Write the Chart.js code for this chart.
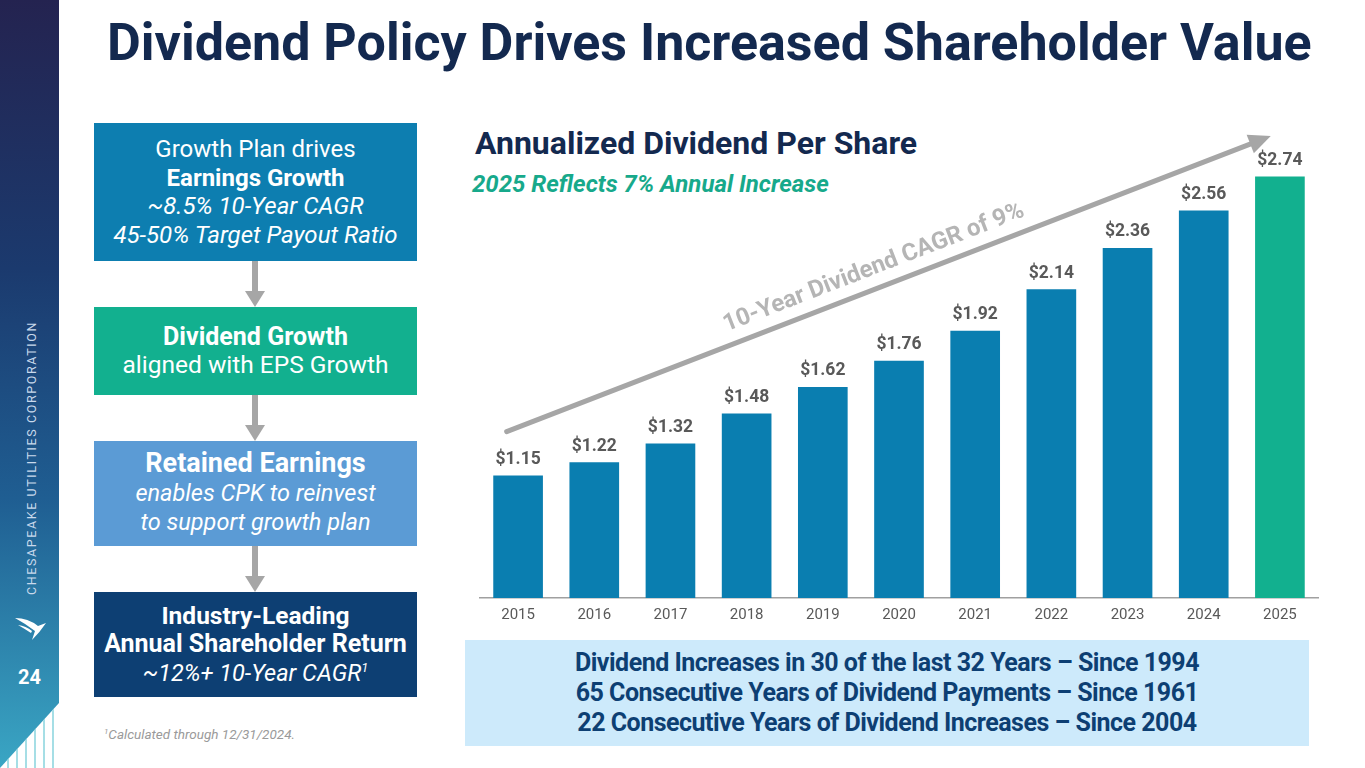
<!DOCTYPE html>
<html>
<head>
<meta charset="utf-8">
<title>Dividend Policy Drives Increased Shareholder Value</title>
<script src="https://cdn.jsdelivr.net/npm/chart.js@4.4.1/dist/chart.umd.min.js"></script>
<style>
  html, body { margin: 0; padding: 0; }
  body {
    width: 1365px; height: 768px; overflow: hidden; position: relative;
    background: #fff; font-family: Roboto, "Noto Sans", sans-serif;
  }
  .abs { position: absolute; }
  #sidebar {
    left: 0; top: 0; width: 59px; height: 768px;
    background: linear-gradient(to bottom, #242350 0%, #1b3a6e 35%, #1f5e92 65%, #3aa6c4 100%);
    clip-path: polygon(0 0, 59px 0, 59px 703px, 0 768px);
  }
  #stripes {
    left: 0; top: 700px; width: 59px; height: 68px;
    background: repeating-linear-gradient(to right, transparent 0 7px, #8fd6df 7px 9px);
    clip-path: polygon(59px 3px, 59px 68px, 0 68px);
    opacity: 0.8;
  }
  #brand {
    left: -118px; top: 450px; width: 300px; height: 16px; line-height: 16px;
    transform: rotate(-90deg); text-align: center;
    color: #c9d9ec; font-size: 12.5px; letter-spacing: 1.6px; white-space: nowrap;
  }
  #pageNo { left: 0; top: 665px; width: 59px; text-align: center; color: #fff; font-weight: 700; font-size: 20px; }
  #logo { left: 12px; top: 614px; }
  #title {
    left: 107px; top: 13px; white-space: nowrap;
    color: #13294f; font-weight: 700; font-size: 52px; line-height: 60px;
  }
  .box {
    left: 94px; width: 323px; display: flex; flex-direction: column;
    justify-content: center; align-items: center; text-align: center;
    color: #fff; font-size: 24px; line-height: 28.5px; white-space: nowrap;
  }
  .box b { font-weight: 700; }
  .box i { font-style: italic; }
  #box1 { top: 123px; height: 138px; background: #0d7eb0; }
  #box2 { top: 307px; height: 88px; background: #12b08f; }
  #box3 { top: 441px; height: 105px; background: #5b9bd5; line-height: 29.5px; }
  #box4 { top: 592px; height: 105px; background: #0d3f73; }
  .arrow { left: 245px; width: 20px; }
  .arrow .shaft { position: absolute; left: 7px; width: 6px; top: 0; background: #a6a6a6; }
  .arrow .head {
    position: absolute; left: 0; width: 0; height: 0;
    border-left: 10px solid transparent; border-right: 10px solid transparent; border-top: 16px solid #a6a6a6;
  }
  #footnote { left: 104px; top: 726px; color: #9a9a9a; font-size: 13.5px; font-style: italic; }
  #footnote sup { font-size: 8px; }
  #chartTitle { left: 475px; top: 124px; color: #13294f; font-weight: 700; font-size: 32px; line-height: 38px; white-space: nowrap; }
  #chartSub { left: 472px; top: 170px; color: #17a98b; font-weight: 700; font-style: italic; font-size: 24px; line-height: 28px; white-space: nowrap; }
  #chartWrap { left: 465px; top: 110px; width: 860px; height: 539px; }
  #facts {
    left: 465px; top: 640px; width: 844px; height: 106px; background: #cdeafb;
    display: flex; flex-direction: column; justify-content: center; align-items: center;
    color: #0d3f73; font-weight: 700; font-size: 25px; line-height: 30px; letter-spacing: -0.5px; white-space: nowrap;
  }
</style>
</head>
<body>
  <div id="sidebar" class="abs"></div>
  <div id="stripes" class="abs"></div>
  <div id="brand" class="abs">CHESAPEAKE UTILITIES CORPORATION</div>
  <svg id="logo" class="abs" width="40" height="34" viewBox="0 0 40 34">
    <path d="M3 4 Q16 4 26 12 L34 9 Q28 18 20 26 L23 17 Q14 10 3 4 Z" fill="#fff"/>
    <path d="M6 11 Q14 12 20 17 L19 19 Q13 15 6 11 Z" fill="#fff"/>
  </svg>
  <div id="pageNo" class="abs">24</div>

  <div id="title" class="abs">Dividend Policy Drives Increased Shareholder Value</div>

  <div id="box1" class="abs box">
    <div>Growth Plan drives</div>
    <div><b>Earnings Growth</b></div>
    <div><i>~8.5% 10-Year CAGR</i></div>
    <div><i>45-50% Target Payout Ratio</i></div>
  </div>
  <div class="abs arrow" style="top:261px;height:46px"><div class="shaft" style="height:30px"></div><div class="head" style="top:30px"></div></div>
  <div id="box2" class="abs box">
    <div style="font-size:25px"><b>Dividend Growth</b></div>
    <div style="font-size:24.5px">aligned with EPS Growth</div>
  </div>
  <div class="abs arrow" style="top:395px;height:46px"><div class="shaft" style="height:30px"></div><div class="head" style="top:30px"></div></div>
  <div id="box3" class="abs box">
    <div style="font-size:27px"><b>Retained Earnings</b></div>
    <div style="font-size:23.5px"><i>enables CPK to reinvest</i></div>
    <div style="font-size:23.5px"><i>to support growth plan</i></div>
  </div>
  <div class="abs arrow" style="top:546px;height:46px"><div class="shaft" style="height:30px"></div><div class="head" style="top:30px"></div></div>
  <div id="box4" class="abs box">
    <div style="font-size:24.5px"><b>Industry-Leading</b></div>
    <div style="font-size:25px"><b>Annual Shareholder Return</b></div>
    <div style="font-size:23.5px"><i>~12%+ 10-Year CAGR<sup style="font-size:13px;line-height:0">1</sup></i></div>
  </div>
  <div id="footnote" class="abs"><sup>1</sup>Calculated through 12/31/2024.</div>

  <div id="chartTitle" class="abs">Annualized Dividend Per Share</div>
  <div id="chartSub" class="abs">2025 Reflects 7% Annual Increase</div>
  <div id="chartWrap" class="abs"><canvas id="dividendChart"></canvas></div>

  <div id="facts" class="abs">
    <div>Dividend Increases in 30 of the last 32 Years – Since 1994</div>
    <div>65 Consecutive Years of Dividend Payments – Since 1961</div>
    <div>22 Consecutive Years of Dividend Increases – Since 2004</div>
  </div>

<script>
  // Chart data
  const years = ['2015', '2016', '2017', '2018', '2019', '2020', '2021', '2022', '2023', '2024', '2025'];
  const dividends = [1.15, 1.22, 1.32, 1.48, 1.62, 1.76, 1.92, 2.14, 2.36, 2.56, 2.74];
  const trendLabel = '10-Year Dividend CAGR of 9%';

  const BLUE = '#0a7eb0';
  const TEAL = '#12b08f';

  // Value labels above each bar
  const valueLabels = {
    id: 'valueLabels',
    afterDatasetsDraw(chart){
      const ctx = chart.ctx;
      const meta = chart.getDatasetMeta(0);
      ctx.save();
      ctx.font = '700 17.5px Roboto';
      ctx.fillStyle = '#595959';
      ctx.textAlign = 'center';
      ctx.textBaseline = 'alphabetic';
      meta.data.forEach((bar, i) => {
        ctx.fillText('$' + dividends[i].toFixed(2), bar.x, bar.y - 12);
      });
      ctx.restore();
    }
  };

  // Trend arrow across the bars, placed in scale units
  const trendArrow = {
    id: 'trendArrow',
    afterDatasetsDraw(chart){
      const x = chart.scales.x, y = chart.scales.y;
      const step = x.getPixelForValue(1) - x.getPixelForValue(0);
      const px = idx => x.getPixelForValue(0) + idx * step;
      const x0 = px(-0.15), y0 = y.getPixelForValue(1.385);
      const x1 = px(9.88),  y1 = y.getPixelForValue(2.957);
      const ang = Math.atan2(y1 - y0, x1 - x0);
      const len = Math.hypot(x1 - x0, y1 - y0);
      const ctx = chart.ctx;
      ctx.save();
      ctx.translate(x0, y0);
      ctx.rotate(ang);
      ctx.strokeStyle = '#a6a6a6';
      ctx.fillStyle = '#a6a6a6';
      ctx.lineWidth = 5;
      ctx.lineCap = 'round';
      ctx.beginPath();
      ctx.moveTo(0, 0);
      ctx.lineTo(len - 18, 0);
      ctx.stroke();
      ctx.beginPath();
      ctx.moveTo(len, 0);
      ctx.lineTo(len - 22, -10);
      ctx.lineTo(len - 22, 10);
      ctx.closePath();
      ctx.fill();
      // label along the arrow
      ctx.fillStyle = '#b5b5b5';
      ctx.font = '700 24px Roboto';
      ctx.textAlign = 'center';
      ctx.textBaseline = 'middle';
      ctx.fillText(trendLabel, len * 0.49, -20);
      ctx.restore();
    }
  };

  document.addEventListener('DOMContentLoaded', init);

  function init(){
    const el = document.getElementById('dividendChart');
    if (!el || typeof Chart === 'undefined') return;

    try {
      new Chart(el, {
        type: 'bar',
        data: {
          labels: years,
          datasets: [{
            label: 'Annualized Dividend Per Share',
            data: dividends,
            backgroundColor: ctx => ctx.dataIndex === dividends.length - 1 ? TEAL : BLUE,
            barThickness: 49,
            borderWidth: 0
          }]
        },
        options: {
          responsive: true,
          maintainAspectRatio: false,
          animation: false,
          layout: { padding: { top: 18, left: 15, right: 7, bottom: 17 } },
          plugins: {
            legend: { display: false },
            tooltip: { enabled: false }
          },
          scales: {
            y: {
              display: false,
              min: 0.5,
              max: 3.0
            },
            x: {
              grid: { display: false, drawTicks: false },
              border: { display: true, color: '#a0a0a0', width: 1.5 },
              ticks: {
                color: '#595959',
                font: { family: 'Roboto', size: 15 },
                padding: 8
              }
            }
          }
        },
        plugins: [trendArrow, valueLabels]
      });
    } catch(err) {
      console.error('Chart error:', err);
    }
  }
</script>
</body>
</html>
